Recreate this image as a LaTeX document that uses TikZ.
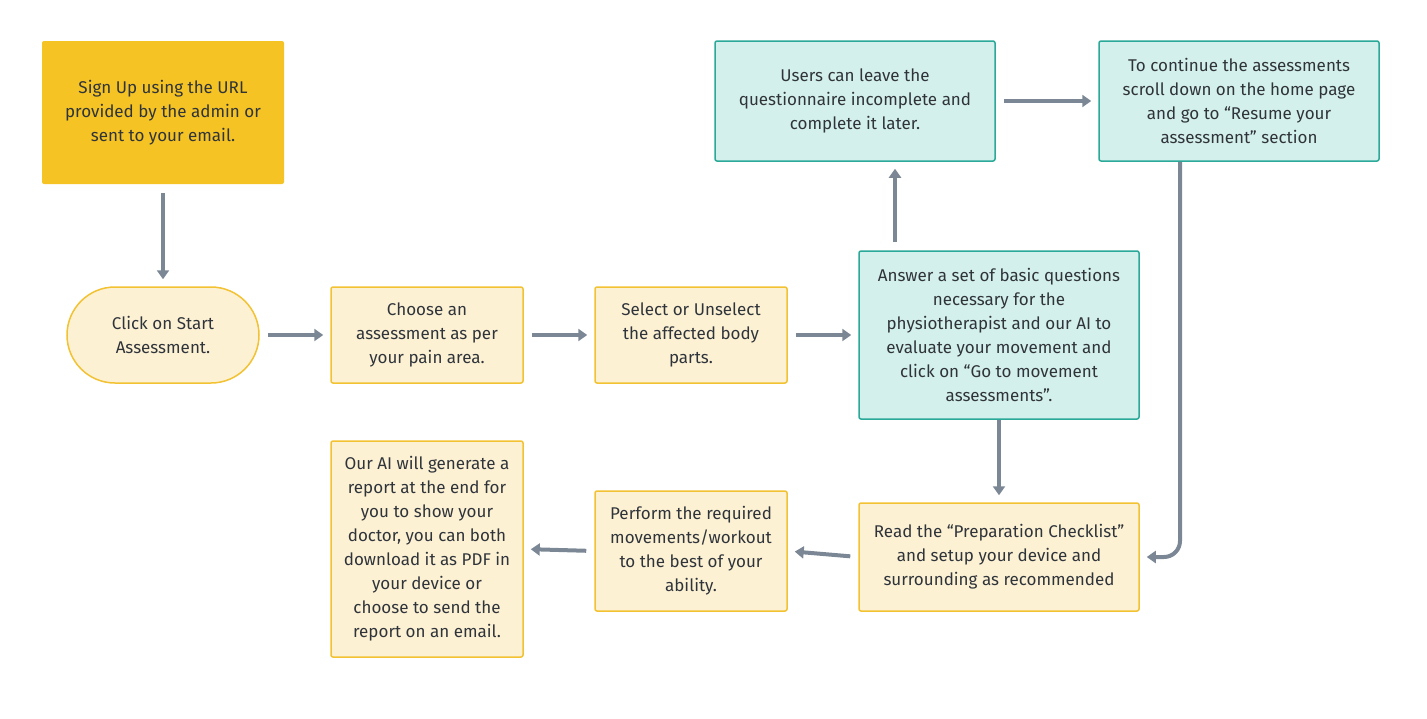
\documentclass[tikz,border=0pt]{standalone}
\usepackage{fontspec}
\setmainfont{Fira Sans}
\usetikzlibrary{arrows.meta,positioning}

\definecolor{signfill}{HTML}{F5C324}
\definecolor{stepfill}{HTML}{FDF1D4}
\definecolor{stepline}{HTML}{F2C232}
\definecolor{qfill}{HTML}{D4F0EC}
\definecolor{qline}{HTML}{2AA898}
\definecolor{arrowgray}{HTML}{7B8794}
\definecolor{txt}{HTML}{2F343A}

\tikzset{
  box/.style={rectangle, rounded corners=2pt, line width=1.5pt, align=center,
    inner sep=0pt, text=txt, font=\fontsize{17}{24}\selectfont},
  yellowbox/.style={box, draw=stepline, fill=stepfill},
  tealbox/.style={box, draw=qline, fill=qfill},
  flow/.style={-{Triangle[length=9pt,width=12pt]}, line width=4pt, draw=arrowgray,
    shorten <=8pt, shorten >=7pt},
}

\begin{document}
\begin{tikzpicture}[x=1pt,y=-1pt]
  \useasboundingbox (0,0) rectangle (1427,718);

  % top row
  \node[box, fill=signfill, minimum width=242pt, minimum height=143pt] (signup) at (163,112.5)
    {Sign Up using the URL\\provided by the admin or\\sent to your email.};
  \node[tealbox, minimum width=280pt, minimum height=120pt] (leave) at (855,101)
    {Users can leave the\\questionnaire incomplete and\\complete it later.};
  \node[tealbox, minimum width=280pt, minimum height=120pt] (resume) at (1239,101)
    {To continue the assessments\\scroll down on the home page\\and go to ``Resume your\\assessment'' section};

  % middle row
  \node[yellowbox, rounded corners=48pt, minimum width=192pt, minimum height=96pt] (start) at (163,335)
    {Click on Start\\Assessment.};
  \node[yellowbox, minimum width=192pt, minimum height=96pt] (choose) at (427,335)
    {Choose an\\assessment as per\\your pain area.};
  \node[yellowbox, minimum width=192pt, minimum height=96pt] (select) at (691,335)
    {Select or Unselect\\the affected body\\parts.};
  \node[tealbox, minimum width=280pt, minimum height=168pt] (answer) at (999,335)
    {Answer a set of basic questions\\necessary for the\\physiotherapist and our AI to\\evaluate your movement and\\click on ``Go to movement\\assessments''.};

  % bottom row
  \node[yellowbox, minimum width=280pt, minimum height=108pt] (checklist) at (999,557)
    {Read the ``Preparation Checklist''\\and setup your device and\\surrounding as recommended};
  \node[yellowbox, minimum width=192pt, minimum height=120pt] (perform) at (691,551)
    {Perform the required\\movements/workout\\to the best of your\\ability.};
  \node[yellowbox, minimum width=192pt, minimum height=216pt] (report) at (427,549)
    {Our AI will generate a\\report at the end for\\you to show your\\doctor, you can both\\download it as PDF in\\your device or\\choose to send the\\report on an email.};

  \draw[flow] (signup) -- (start);
  \draw[flow] (start) -- (choose);
  \draw[flow] (choose) -- (select);
  \draw[flow] (select) -- (answer);
  \draw[flow] ([xshift=-104pt]answer.north) -- ([xshift=-104pt]answer.north |- leave.south);
  \draw[flow] (leave) -- (resume);
  \draw[flow, shorten <=0pt, rounded corners=16pt] ([xshift=-59pt]resume.south) |- (checklist.east);
  \draw[flow, shorten <=0pt] (answer) -- (checklist);
  \draw[flow] (checklist.west) -- (perform.east);
  \draw[flow] (perform.west) -- (report.east);
\end{tikzpicture}
\end{document}
